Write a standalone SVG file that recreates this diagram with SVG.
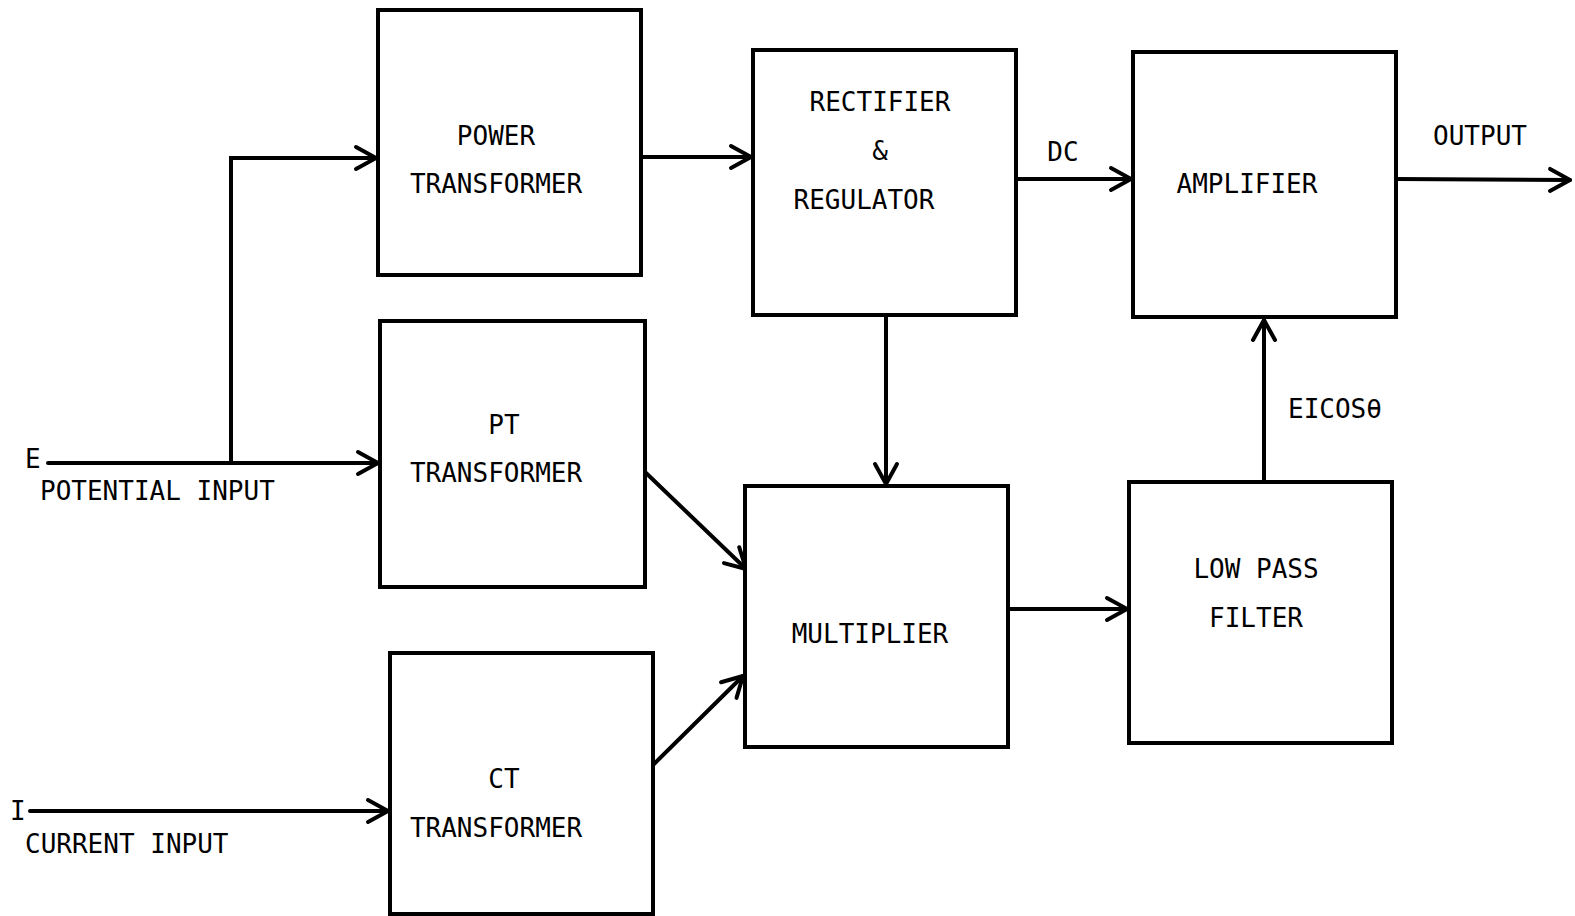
<svg xmlns="http://www.w3.org/2000/svg" width="1575" height="916" viewBox="0 0 1575 916">
  <style>
    .box { fill: #fff; stroke: #000; stroke-width: 4; }
    .wire { fill: none; stroke: #000; stroke-width: 4; stroke-linecap: round; }
    text { font-family: "DejaVu Sans Mono", "Liberation Mono", monospace; font-size: 26px; fill: #000; }
    .c { text-anchor: middle; }
  </style>
  <defs>
    <marker id="arrow" viewBox="-24 -14 28 28" markerWidth="28" markerHeight="28" refX="0" refY="0" orient="auto" markerUnits="userSpaceOnUse">
      <path d="M-20,-11 L0,0 L-20,11" fill="none" stroke="#000" stroke-width="4" stroke-linecap="round" stroke-linejoin="round"/>
    </marker>
  </defs>
  <rect width="1575" height="916" fill="#fff"/>

  <g id="connectors">
    <path class="wire" d="M48,463 L378,463" marker-end="url(#arrow)"/>
    <path class="wire" d="M231,463 L231,158 L376,158" marker-end="url(#arrow)"/>
    <path class="wire" d="M641,157 L751,157" marker-end="url(#arrow)"/>
    <path class="wire" d="M886,315 L886,484" marker-end="url(#arrow)"/>
    <path class="wire" d="M645,472 L746,569" marker-end="url(#arrow)"/>
    <path class="wire" d="M653,765 L743,676" marker-end="url(#arrow)"/>
    <path class="wire" d="M1008,609 L1127,609" marker-end="url(#arrow)"/>
    <path class="wire" d="M1264,482 L1264,320" marker-end="url(#arrow)"/>
    <path class="wire" d="M1016,179 L1131,179" marker-end="url(#arrow)"/>
    <path class="wire" d="M1396,179 L1570,180" marker-end="url(#arrow)"/>
    <path class="wire" d="M30,811 L388,811" marker-end="url(#arrow)"/>
  </g>

  <g id="power-transformer">
    <rect class="box" x="378" y="10" width="263" height="265"/>
    <text class="c" x="496" y="145">POWER</text>
    <text class="c" x="496" y="193">TRANSFORMER</text>
  </g>
  <g id="pt-transformer">
    <rect class="box" x="380" y="321" width="265" height="266"/>
    <text class="c" x="504" y="434">PT</text>
    <text class="c" x="496" y="482">TRANSFORMER</text>
  </g>
  <g id="ct-transformer">
    <rect class="box" x="390" y="653" width="263" height="261"/>
    <text class="c" x="504" y="788">CT</text>
    <text class="c" x="496" y="837">TRANSFORMER</text>
  </g>
  <g id="rectifier-regulator">
    <rect class="box" x="753" y="50" width="263" height="265"/>
    <text class="c" x="880" y="111">RECTIFIER</text>
    <text class="c" x="880" y="160">&amp;</text>
    <text class="c" x="864" y="209">REGULATOR</text>
  </g>
  <g id="multiplier">
    <rect class="box" x="745" y="486" width="263" height="261"/>
    <text class="c" x="870" y="643">MULTIPLIER</text>
  </g>
  <g id="amplifier">
    <rect class="box" x="1133" y="52" width="263" height="265"/>
    <text class="c" x="1247" y="193">AMPLIFIER</text>
  </g>
  <g id="low-pass-filter">
    <rect class="box" x="1129" y="482" width="263" height="261"/>
    <text class="c" x="1256" y="578">LOW PASS</text>
    <text class="c" x="1256" y="627">FILTER</text>
  </g>

  <g id="labels">
    <text class="c" x="1063" y="161">DC</text>
    <text class="c" x="1480" y="145">OUTPUT</text>
    <text x="1288" y="418">EICOSθ</text>
    <text x="25" y="468">E</text>
    <text x="40" y="500">POTENTIAL INPUT</text>
    <text x="10" y="820">I</text>
    <text x="25" y="853">CURRENT INPUT</text>
  </g>
</svg>
